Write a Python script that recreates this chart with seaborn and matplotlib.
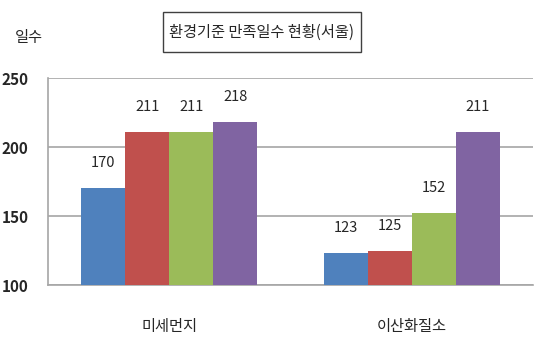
import pandas as pd
import matplotlib
matplotlib.use("Agg")
import matplotlib.pyplot as plt
from matplotlib.patches import Rectangle
import seaborn as sns

# data
categories = ["미세먼지", "이산화질소"]
series = ["s1", "s2", "s3", "s4"]
values = {
    "s1": [170, 123],
    "s2": [211, 125],
    "s3": [211, 152],
    "s4": [218, 211],
}
colors = ["#4F81BD", "#C0504D", "#9BBB59", "#8064A2"]

rows = []
for s in series:
    for c, v in zip(categories, values[s]):
        rows.append({"항목": c, "계열": s, "일수": v})
df = pd.DataFrame(rows)

sns.set_style("white")
plt.rcParams["font.family"] = ["Noto Sans CJK KR", "DejaVu Sans"]

fig = plt.figure(figsize=(5.46, 3.55), dpi=100)
ax = fig.add_axes([0.088, 0.197, 0.888, 0.583])

sns.barplot(data=df, x="항목", y="일수", hue="계열", palette=colors,
            width=0.726, saturation=1, legend=False, ax=ax, zorder=3,
            linewidth=0, edgecolor="none")

for p in ax.patches:
    h = p.get_height()
    if h > 0:
        ax.annotate(f"{h:.0f}", (p.get_x() + p.get_width() / 2, h),
                    xytext=(0, 13), textcoords="offset points",
                    ha="center", va="bottom", fontsize=10.5, fontweight="medium")

ax.set_ylim(100, 250)
ax.set_xlim(-0.5, 1.5)
ax.set_yticks([100, 150, 200, 250])
ax.grid(axis="y", color="#A6A6A6", linewidth=1.2, zorder=0)
ax.set_axisbelow(True)
for side in ["top", "right"]:
    ax.spines[side].set_visible(False)
for side in ["left", "bottom"]:
    ax.spines[side].set_color("#A6A6A6")
    ax.spines[side].set_linewidth(1.2)

ax.tick_params(axis="y", length=0, pad=14, labelsize=11)
for t in ax.get_yticklabels():
    t.set_fontweight("bold")
ax.tick_params(axis="x", length=0, pad=24, labelsize=11)
ax.set_xlabel("")
ax.set_ylabel("")

fig.text(0.027, 0.893, "일수", fontsize=11, ha="left", va="center")

# title box
fig.patches.append(Rectangle((0.2985, 0.8535), 0.3626, 0.1127, transform=fig.transFigure,
                             facecolor="white", edgecolor="#404040", linewidth=1))
fig.text(0.4798, 0.91, "환경기준 만족일수 현황(서울)", fontsize=11, ha="center", va="center")

fig.savefig("out.png", dpi=100)
